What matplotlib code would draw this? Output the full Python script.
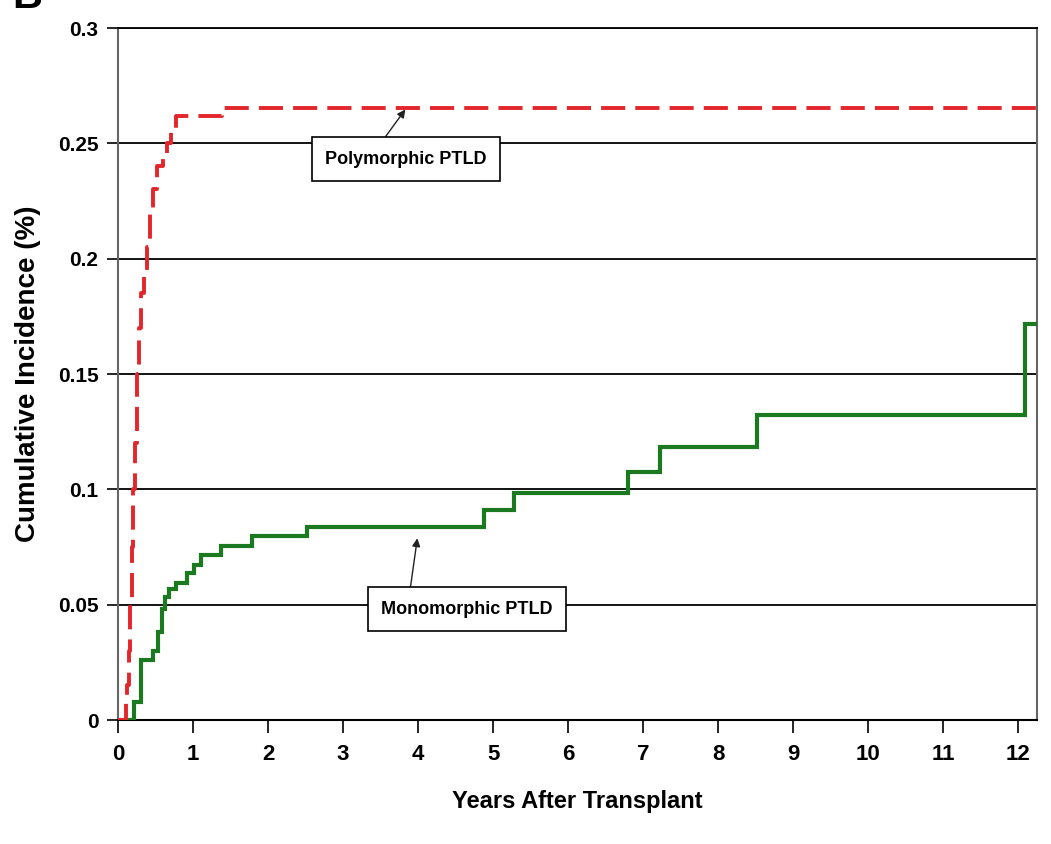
import matplotlib
matplotlib.use("Agg")
import matplotlib.pyplot as plt

# Polymorphic PTLD (red dashed), step curve
poly_years = [0, 0.10, 0.12, 0.14, 0.16, 0.18, 0.20, 0.22, 0.25, 0.28, 0.31, 0.35,
              0.39, 0.43, 0.47, 0.52, 0.60, 0.65, 0.70, 0.77, 1.39, 12.3]
poly_inc = [0, 0.008, 0.015, 0.03, 0.05, 0.075, 0.10, 0.12, 0.15, 0.17, 0.185, 0.195,
            0.205, 0.22, 0.23, 0.24, 0.245, 0.25, 0.255, 0.262, 0.2655, 0.2655]

# Monomorphic PTLD (green solid), step curve
mono_years = [0, 0.15, 0.21, 0.30, 0.46, 0.53, 0.58, 0.62, 0.68, 0.77, 0.92, 1.01,
              1.10, 1.37, 1.78, 2.52, 4.88, 5.28, 6.80, 7.23, 8.52, 12.09, 12.3]
mono_inc = [0, 0, 0.008, 0.026, 0.030, 0.038, 0.048, 0.0534, 0.0566, 0.0595, 0.0637, 0.0672,
            0.0715, 0.0756, 0.0798, 0.0838, 0.091, 0.0984, 0.1075, 0.1185, 0.1322, 0.1717, 0.1717]

yticks = [0, 0.05, 0.1, 0.15, 0.2, 0.25, 0.3]
ytick_labels = ['0', '0.05', '0.1', '0.15', '0.2', '0.25', '0.3']
xticks = list(range(0, 13))

font = ['Liberation Sans', 'DejaVu Sans']

fig = plt.figure(figsize=(10.51, 8.44), dpi=100)
ax = fig.add_axes([0.1123, 0.1469, 0.8744, 0.8199])

for yv in yticks[1:]:
    ax.axhline(yv, color='black', lw=1.3, zorder=1)

ax.plot(mono_years, mono_inc, drawstyle='steps-post', color='#1b7a20', lw=3.0,
        solid_joinstyle='miter', zorder=3)
red, = ax.plot(poly_years, poly_inc, drawstyle='steps-post', color='#e3262b', lw=2.8,
               zorder=4)
red.set_dashes((6.2, 2.6))

ax.set_xlim(0, 12.25)
ax.set_ylim(0, 0.3)
ax.set_xticks(xticks)
ax.set_xticklabels([str(v) for v in xticks], family=font, fontweight='bold', fontsize=16)
ax.set_yticks(yticks)
ax.set_yticklabels(ytick_labels, family=font, fontweight='bold', fontsize=15)
ax.tick_params(axis='x', direction='out', length=9, width=1.2, pad=8)
ax.tick_params(axis='y', direction='out', length=8, width=1.2, pad=6)

for side in ['left', 'right']:
    ax.spines[side].set_color('#666666')
    ax.spines[side].set_linewidth(1.5)
ax.spines['bottom'].set_color('black')
ax.spines['bottom'].set_linewidth(1.5)
ax.spines['top'].set_color('black')
ax.spines['top'].set_linewidth(1.3)

ax.set_xlabel('Years After Transplant', family=font, fontweight='bold', fontsize=17,
              labelpad=18)
ax.set_ylabel('Cumulative Incidence (%)', family=font, fontweight='bold', fontsize=20,
              labelpad=12)

box = dict(boxstyle='square,pad=0.75', fc='white', ec='black', lw=1.2)
ax.annotate('Polymorphic PTLD', xy=(3.83, 0.2647), xytext=(3.84, 0.2432),
            ha='center', va='center', family=font, fontweight='bold', fontsize=13,
            bbox=box, zorder=6,
            arrowprops=dict(arrowstyle='-|>', color='#222222', lw=1.0,
                            mutation_scale=12, relpos=(0.31, 1.0), shrinkA=0, shrinkB=0))
ax.annotate('Monomorphic PTLD', xy=(3.99, 0.0788), xytext=(4.65, 0.0481),
            ha='center', va='center', family=font, fontweight='bold', fontsize=13,
            bbox=box, zorder=6,
            arrowprops=dict(arrowstyle='-|>', color='#222222', lw=1.0,
                            mutation_scale=12, relpos=(0.16, 1.0), shrinkA=0, shrinkB=0))

fig.text(0.012, 0.991, 'B', family=font, fontweight='bold', fontsize=30, va='baseline')

fig.savefig('out.png', dpi=100)
